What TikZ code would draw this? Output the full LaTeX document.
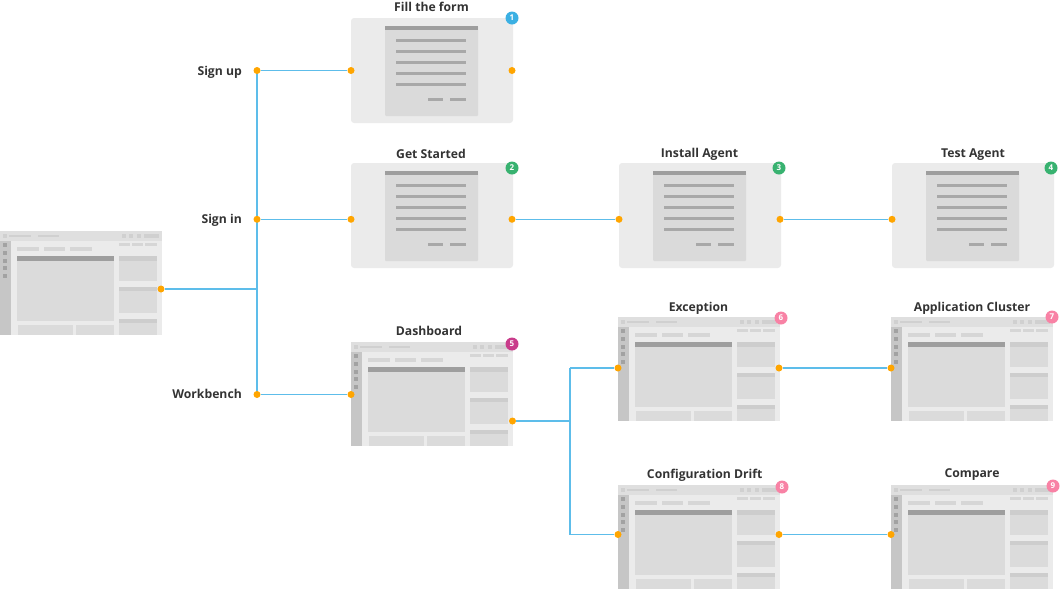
\documentclass[tikz,border=0pt]{standalone}
\usepackage{fontspec}
\usetikzlibrary{backgrounds}
\setmainfont{Open Sans}
\definecolor{cardbg}{HTML}{EBEBEB}
\definecolor{paper}{HTML}{DADADA}
\definecolor{darkbar}{HTML}{9E9E9E}
\definecolor{formline}{HTML}{A8A8A8}
\definecolor{topbar}{HTML}{DFDFDF}
\definecolor{topitem}{HTML}{D0D0D0}
\definecolor{sidebar}{HTML}{C6C6C6}
\definecolor{sideitem}{HTML}{A2A2A2}
\definecolor{panel}{HTML}{DBDBDB}
\definecolor{panelband}{HTML}{CDCDCD}
\definecolor{tabgray}{HTML}{D6D6D6}
\definecolor{dotorange}{HTML}{FFA500}
\definecolor{linkblue}{HTML}{5DBDEA}
\definecolor{labeltext}{HTML}{333333}
\definecolor{badgeblue}{HTML}{3BB0E3}
\definecolor{badgegreen}{HTML}{38B270}
\definecolor{badgemagenta}{HTML}{C93C8B}
\definecolor{badgepink}{HTML}{F882A5}
\begin{document}
\begin{tikzpicture}[x=1pt,y=-1pt,
  dot/.style={circle,fill=dotorange,inner sep=0pt,minimum size=7pt},
  conn/.style={draw=linkblue,line width=1.1pt},
  badge/.style={circle,inner sep=0pt,minimum size=13pt,text=white,
    font=\fontsize{8}{8}\selectfont\bfseries},
  title/.style={anchor=base,text=labeltext,inner sep=0pt,
    font=\fontsize{12.2}{15}\selectfont\bfseries},
  sidelabel/.style={title,anchor=base east},
  % a form page: card, sheet with heading bar, five lines, two buttons
  formcard/.pic={
    \fill[cardbg,rounded corners=3pt] (0,0) rectangle (162,105);
    \fill[paper,rounded corners=1pt] (34,8) rectangle (127,98);
    \fill[darkbar] (34,8) rectangle (127,12);
    \foreach \ly in {22,33,44,55,66}
      \fill[formline] (45,\ly-1.5) rectangle (115,\ly+1.5);
    \fill[formline] (77,79.5) rectangle (92,82.5);
    \fill[formline] (99,79.5) rectangle (115,82.5);
  },
  % an application screen: top bar, side bar, tabs and panels
  screen/.pic={
    \fill[cardbg] (0,0) rectangle (162,104);
    \fill[topbar] (0,0) rectangle (162,10);
    \fill[topitem] (3,3) rectangle (7,7);
    \fill[topitem] (9,4) rectangle (31,6);
    \fill[topitem] (38,4) rectangle (59,6);
    \fill[topitem] (121.5,3.3) rectangle (125.8,6.7);
    \fill[topitem] (129,3.3) rectangle (133.3,6.7);
    \fill[topitem] (136.7,3.3) rectangle (141,6.7);
    \fill[topitem] (144,3.3) rectangle (158.5,6.7);
    \fill[sidebar] (0,10) rectangle (11,104);
    \foreach \sy in {12.3,20,27.7,35.4,43.1}
      \fill[sideitem] (3.3,\sy) rectangle (7.3,\sy+4);
    \fill[tabgray] (16.5,16.3) rectangle (38.7,20);
    \fill[tabgray] (43.7,16.3) rectangle (65.3,20);
    \fill[tabgray] (70.3,16.3) rectangle (92,20);
    \fill[tabgray] (118.5,12.3) rectangle (130,14.7);
    \fill[tabgray] (132,12.3) rectangle (143.3,14.7);
    \fill[tabgray] (145.3,12.3) rectangle (157,14.7);
    \fill[panel] (16.5,25.3) rectangle (114.3,89.5);
    \fill[darkbar] (16.5,25.3) rectangle (114.3,29.6);
    \foreach \py/\ph in {25.3/50.3,56/81.5,87.5/104}{
      \fill[panel] (118.7,\py) rectangle (157.3,\ph);
      \fill[panelband] (118.7,\py) rectangle (157.3,\py+4.3);
    }
    \fill[panel] (18.3,94) rectangle (72.7,104);
    \fill[panel] (76,94) rectangle (114.3,104);
  }]
\useasboundingbox (0,0) rectangle (1062,590);

% pages
\pic (fill)    at (351,18)  {formcard};
\pic (start)   at (351,163) {formcard};
\pic (install) at (619,163) {formcard};
\pic (test)    at (892,163) {formcard};

% screens
\pic (home)    at (0,231)   {screen};
\pic (dash)    at (351,342) {screen};
\pic (exc)     at (618,317) {screen};
\pic (app)     at (891,317) {screen};
\pic (cfg)     at (618,485) {screen};
\pic (cmp)     at (891,485) {screen};

% titles
\node[title] (tfill)    at (431.5,11)  {Fill the form};
\node[title] (tstart)   at (431,158)   {Get Started};
\node[title] (tinstall) at (699.5,157) {Install Agent};
\node[title] (ttest)    at (973,157)   {Test Agent};
\node[title] (tdash)    at (429,335)   {Dashboard};
\node[title] (texc)     at (698.5,311.5) {Exception};
\node[title] (tapp)     at (972,311.5) {Application Cluster};
\node[title] (tcfg)     at (704.7,478) {Configuration Drift};
\node[title] (tcmp)     at (972,477)   {Compare};
\node[sidelabel] (lup)  at (242,75)    {Sign up};
\node[sidelabel] (lin)  at (242,223.5) {Sign in};
\node[sidelabel] (lwb)  at (242,398.5) {Workbench};

% connection points
\node[dot] (dup)    at (257,70.5) {};
\node[dot] (din)    at (257,219.3) {};
\node[dot] (dwb)    at (257,394.5) {};
\node[dot] (dhome)  at (161,289) {};
\node[dot] (dfillL) at (351,70.5) {};
\node[dot] (dfillR) at (512,70.5) {};
\node[dot] (dstartL) at (351,219.3) {};
\node[dot] (dstartR) at (512,219.3) {};
\node[dot] (dinstL) at (619,219.3) {};
\node[dot] (dinstR) at (780,219.3) {};
\node[dot] (dtestL) at (892,219.3) {};
\node[dot] (ddashL) at (351,394.5) {};
\node[dot] (ddashR) at (512.5,421) {};
\node[dot] (dexcL)  at (618,368) {};
\node[dot] (dexcR)  at (779,368) {};
\node[dot] (dappL)  at (891,368) {};
\node[dot] (dcfgL)  at (618,534.5) {};
\node[dot] (dcfgR)  at (779,534.5) {};
\node[dot] (dcmpL)  at (891,534.5) {};

% junctions
\coordinate (jhome) at (257,289);
\coordinate (jdash) at (570,421);
\coordinate (jexc)  at (570,368);
\coordinate (jcfg)  at (570,534.5);

% connectors
\begin{pgfonlayer}{background}
\draw[conn] (dup.center) -- (dwb.center);
\draw[conn] (dhome) -- (jhome);
\draw[conn] (dup) -- (dfillL);
\draw[conn] (din) -- (dstartL);
\draw[conn] (dwb) -- (ddashL);
\draw[conn] (dstartR) -- (dinstL);
\draw[conn] (dinstR) -- (dtestL);
\draw[conn] (ddashR) -- (jdash);
\draw[conn] (jexc) -- (jcfg);
\draw[conn] (jexc) -- (dexcL);
\draw[conn] (jcfg) -- (dcfgL);
\draw[conn] (dexcR) -- (dappL);
\draw[conn] (dcfgR) -- (dcmpL);
\end{pgfonlayer}

% step numbers
\node[badge,fill=badgeblue]    (b1) at (512,18)   {1};
\node[badge,fill=badgegreen]   (b2) at (512,168)  {2};
\node[badge,fill=badgegreen]   (b3) at (779,168)  {3};
\node[badge,fill=badgegreen]   (b4) at (1051,168) {4};
\node[badge,fill=badgemagenta] (b5) at (512,344)  {5};
\node[badge,fill=badgepink]    (b6) at (781,318)  {6};
\node[badge,fill=badgepink]    (b7) at (1052,317) {7};
\node[badge,fill=badgepink]    (b8) at (782,487)  {8};
\node[badge,fill=badgepink]    (b9) at (1053,486) {9};
\end{tikzpicture}
\end{document}
